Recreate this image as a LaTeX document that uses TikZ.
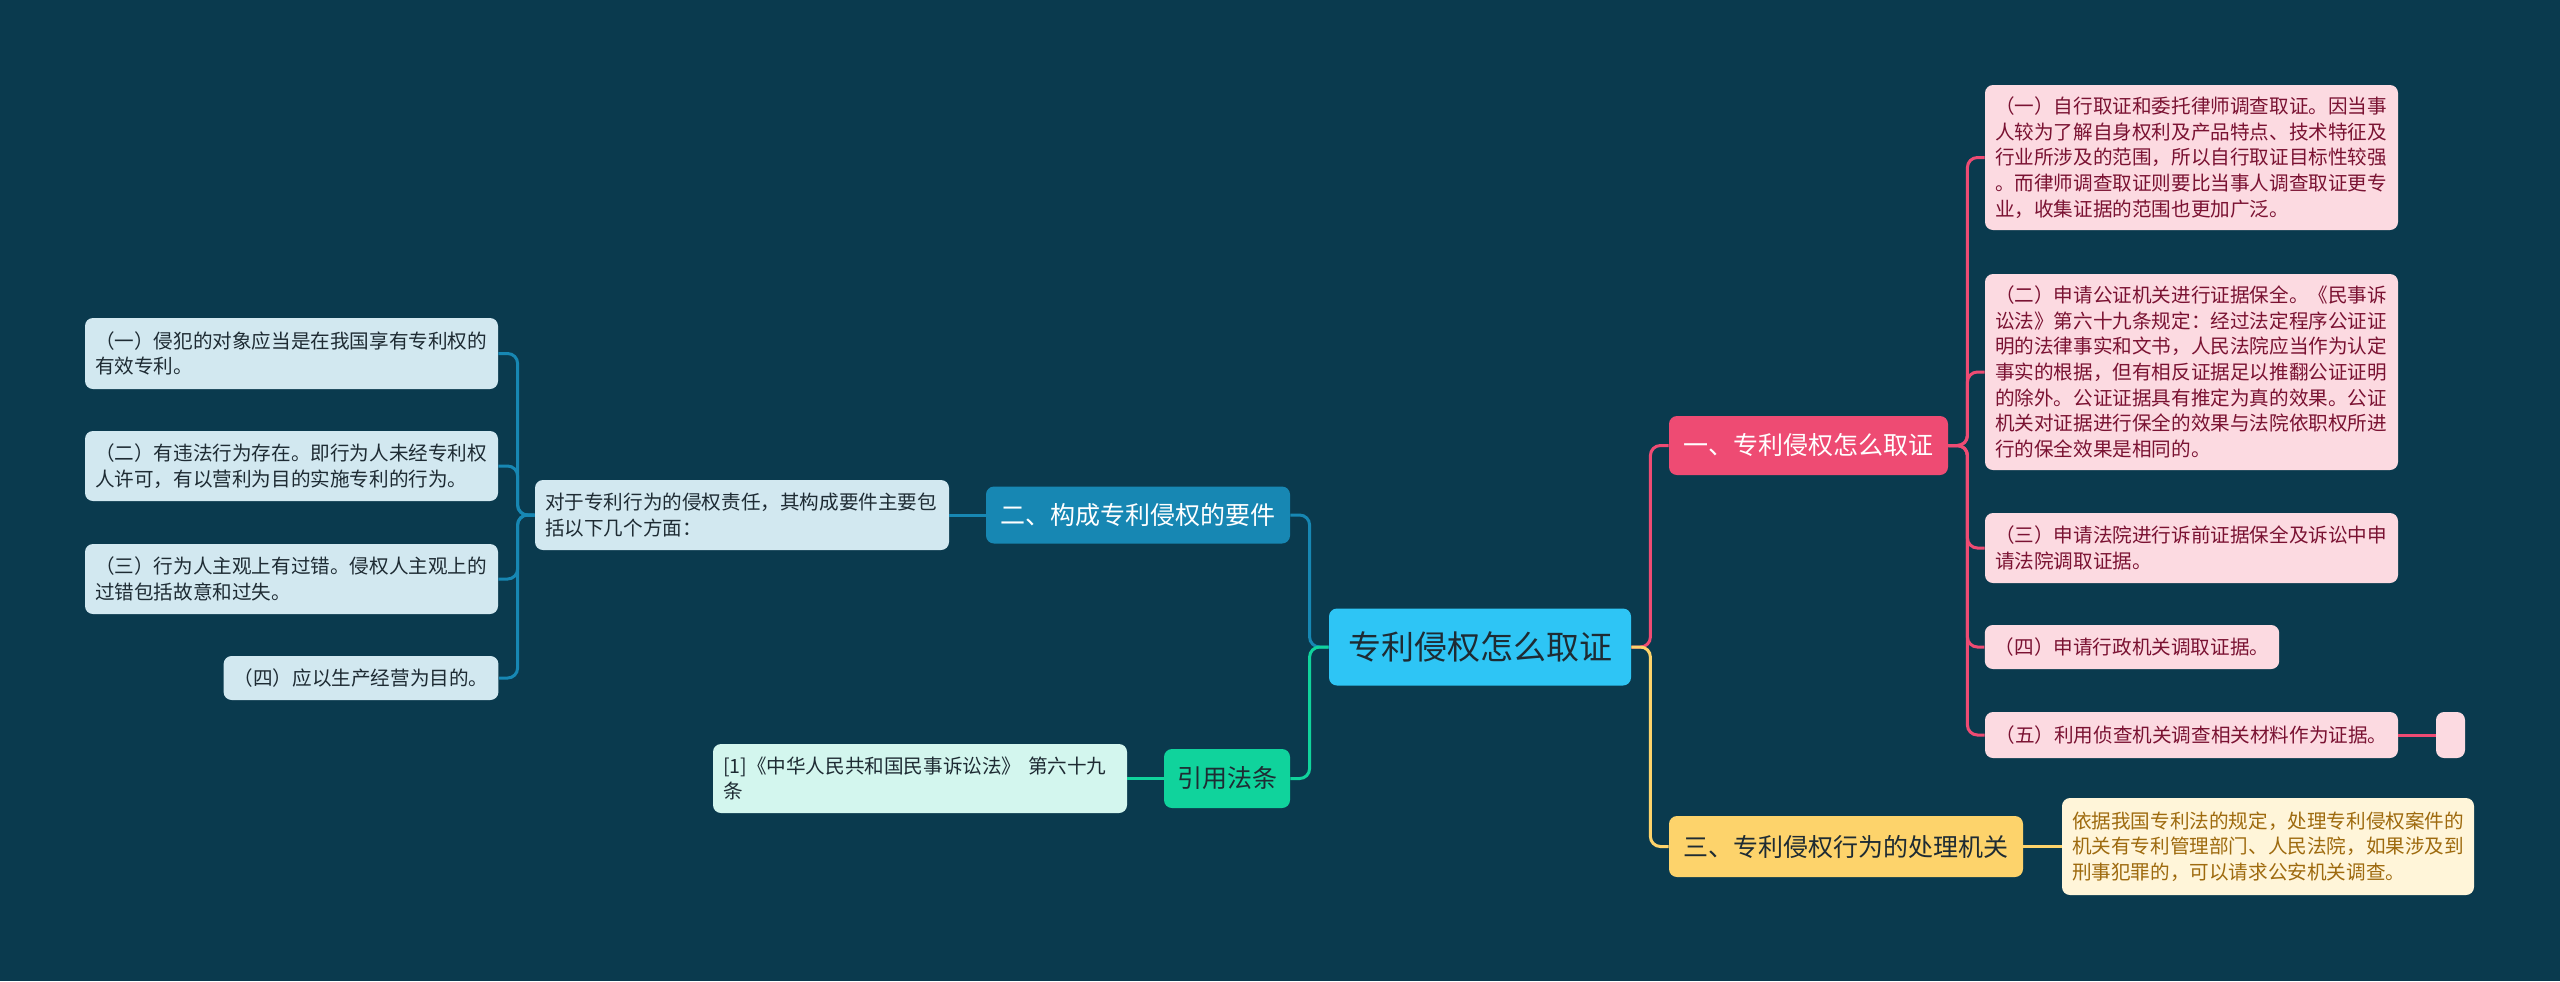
\documentclass[tikz,border=0pt]{standalone}
\usepackage{fontspec}
\setmainfont{Noto Sans CJK SC}
\usetikzlibrary{positioning}

\definecolor{bgcol}{HTML}{0A3A4E}
\definecolor{rootcol}{HTML}{2EC5F5}
\definecolor{bluecol}{HTML}{1787B3}
\definecolor{bluepale}{HTML}{D2E8F0}
\definecolor{greencol}{HTML}{10D39C}
\definecolor{greenpale}{HTML}{D3F6EE}
\definecolor{pinkcol}{HTML}{EE4B73}
\definecolor{pinkpale}{HTML}{FCDAE1}
\definecolor{pinktext}{HTML}{7A1232}
\definecolor{yellowcol}{HTML}{FDD36B}
\definecolor{yellowpale}{HTML}{FFF5D9}
\definecolor{yellowtext}{HTML}{9E6A0E}
\definecolor{darktext}{HTML}{1E2B33}

\begin{document}
\begin{tikzpicture}[
      x=0.5pt, y=-0.5pt,
      box/.style={rounded corners=4pt, inner xsep=5pt, inner ysep=3pt},
      topic/.style={box, fill=#1, font=\fontsize{12.5}{15}\selectfont, align=center},
      note/.style={box, fill=#1, font=\fontsize{9.8}{12.8}\selectfont, align=left},
      link/.style={line width=1.5pt, draw=#1, rounded corners=5pt},
      link/.default=bluecol]
    \fill[bgcol] (0,0) rectangle (2560,981);
    \useasboundingbox (0,0) rectangle (2560,981);

    % centre
    \node[box, fill=rootcol, text=darktext, font=\fontsize{16.5}{20}\selectfont,
          minimum width=151pt, minimum height=38.5pt] (root) at (1480,647) {专利侵权怎么取证};

    % left side
    \node[topic=bluecol, text=white, minimum width=152pt, minimum height=28.5pt] (need) at (1138,515) {二、构成专利侵权的要件};
    \node[note=bluepale, text=darktext, text width=197pt, minimum height=35pt] (needsum) at (742,515)
        {对于专利行为的侵权责任，其构成要件主要包\\括以下几个方面：};
    \node[note=bluepale, text=darktext, text width=196.5pt, minimum height=35.5pt] (need1) at (291.5,353.5)
        {（一）侵犯的对象应当是在我国享有专利权的\\有效专利。};
    \node[note=bluepale, text=darktext, text width=196.5pt, minimum height=35pt] (need2) at (291.5,466)
        {（二）有违法行为存在。即行为人未经专利权\\人许可，有以营利为目的实施专利的行为。};
    \node[note=bluepale, text=darktext, text width=196.5pt, minimum height=35pt] (need3) at (291.5,579)
        {（三）行为人主观上有过错。侵权人主观上的\\过错包括故意和过失。};
    \node[note=bluepale, text=darktext, minimum width=137pt, minimum height=22pt] (need4) at (361,678)
        {（四）应以生产经营为目的。};

    \node[topic=greencol, text=darktext, minimum width=63pt, minimum height=29.5pt] (law) at (1227,778.5) {引用法条};
    \node[note=greenpale, text=darktext, text width=197pt, minimum height=34.5pt] (law1) at (920,778.5)
        {[1]《中华人民共和国民事诉讼法》 第六十九\\条};

    % right side
    \node[topic=pinkcol, text=white, minimum width=139.5pt, minimum height=29.5pt] (proof) at (1808.5,445.5) {一、专利侵权怎么取证};
    \node[note=pinkpale, text=pinktext, text width=196.5pt, minimum height=72.5pt] (proof1) at (2191.5,157.5)
        {（一）自行取证和委托律师调查取证。因当事\\人较为了解自身权利及产品特点、技术特征及\\行业所涉及的范围，所以自行取证目标性较强\\。而律师调查取证则要比当事人调查取证更专\\业，收集证据的范围也更加广泛。};
    \node[note=pinkpale, text=pinktext, text width=196.5pt, minimum height=98pt] (proof2) at (2191.5,372)
        {（二）申请公证机关进行证据保全。《民事诉\\讼法》第六十九条规定：经过法定程序公证证\\明的法律事实和文书，人民法院应当作为认定\\事实的根据，但有相反证据足以推翻公证证明\\的除外。公证证据具有推定为真的效果。公证\\机关对证据进行保全的效果与法院依职权所进\\行的保全效果是相同的。};
    \node[note=pinkpale, text=pinktext, text width=196.5pt, minimum height=35pt] (proof3) at (2191.5,548)
        {（三）申请法院进行诉前证据保全及诉讼中申\\请法院调取证据。};
    \node[note=pinkpale, text=pinktext, minimum width=147pt, minimum height=22pt] (proof4) at (2132,647)
        {（四）申请行政机关调取证据。};
    \node[note=pinkpale, text=pinktext, minimum width=206.5pt, minimum height=23pt] (proof5) at (2191.5,735)
        {（五）利用侦查机关调查相关材料作为证据。};
    \node[box, fill=pinkpale, minimum width=14.5pt, minimum height=23pt, inner sep=0pt] (proof6) at (2450.5,735) {};

    \node[topic=yellowcol, text=darktext, minimum width=177pt, minimum height=30.5pt] (organ) at (1846,846.5) {三、专利侵权行为的处理机关};
    \node[note=yellowpale, text=yellowtext, text width=196pt, minimum height=48.5pt] (organ1) at (2268,846.5)
        {依据我国专利法的规定，处理专利侵权案件的\\机关有专利管理部门、人民法院，如果涉及到\\刑事犯罪的，可以请求公安机关调查。};

    % connectors
    \draw[link] (root.west) -- ++(-19,0) |- (need.east);
    \draw[link=greencol] (root.west) -- ++(-19,0) |- (law.east);
    \draw[link] (need.west) -- (needsum.east);
    \foreach \n in {need1,need2,need3,need4}
        \draw[link] (needsum.west) -- ++(-17,0) |- (\n.east);
    \draw[link=greencol] (law.west) -- (law1.east);

    \draw[link=pinkcol] (root.east) -- ++(19,0) |- (proof.west);
    \draw[link=yellowcol] (root.east) -- ++(19,0) |- (organ.west);
    \foreach \n in {proof1,proof2,proof3,proof4,proof5}
        \draw[link=pinkcol] (proof.east) -- ++(19,0) |- (\n.west);
    \draw[link=pinkcol] (proof5.east) -- (proof6.west);
    \draw[link=yellowcol] (organ.east) -- (organ1.west);
\end{tikzpicture}
\end{document}
